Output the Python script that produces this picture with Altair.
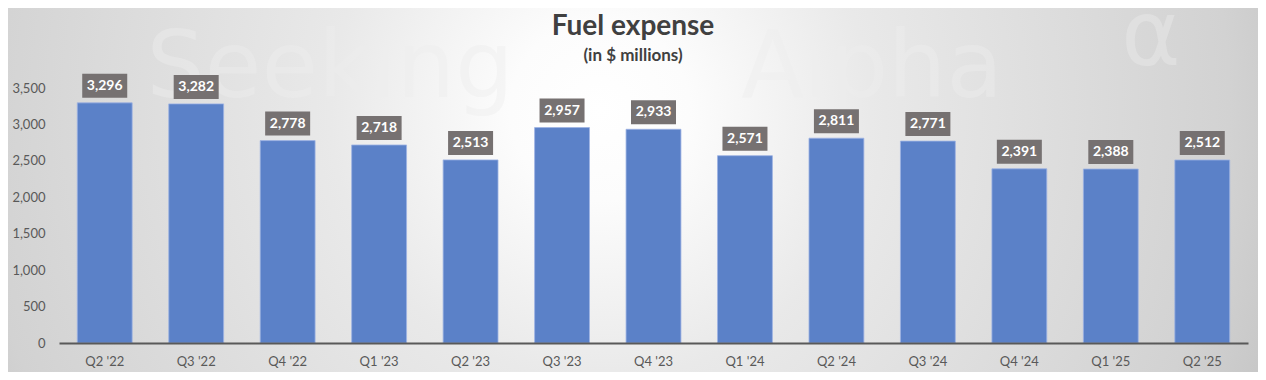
import altair as alt
import pandas as pd

quarters = ["Q2 '22", "Q3 '22", "Q4 '22", "Q1 '23", "Q2 '23", "Q3 '23", "Q4 '23",
            "Q1 '24", "Q2 '24", "Q3 '24", "Q4 '24", "Q1 '25", "Q2 '25"]
fuel = [3296, 3282, 2778, 2718, 2513, 2957, 2933, 2571, 2811, 2771, 2391, 2388, 2512]
labels = [f"{v:,}" for v in fuel]
y_ticks = [0, 500, 1000, 1500, 2000, 2500, 3000, 3500]

title_text = ["Fuel expense"]
subtitle_text = ["(in $ millions)"]

df = pd.DataFrame({"quarter": quarters, "fuel": fuel, "label": labels})

W, H = 1189, 255
FONT = "Lato"

x_enc = alt.X(
    "quarter:N", sort=quarters, title=None,
    scale=alt.Scale(paddingInner=0.4, paddingOuter=0.2),
    axis=alt.Axis(labelAngle=0, ticks=False, domain=True, domainColor="#595959",
                  domainWidth=2, labelPadding=12, labelColor="#595959",
                  labelFontSize=13, labelFont=FONT, grid=False, zindex=2),
)
y_enc = alt.Y(
    "fuel:Q", title=None,
    scale=alt.Scale(domain=[0, 3500], nice=False),
    axis=alt.Axis(values=y_ticks, format=",.0f", ticks=False, domain=False, grid=False,
                  labelPadding=14, labelColor="#595959", labelFontSize=13,
                  labelFont=FONT, zindex=2),
)

one = pd.DataFrame({"a": [0]})

bg = alt.Chart(one).mark_rect(
    fill={
        "gradient": "radial",
        "x1": 0.5, "y1": 0.5, "r1": 0,
        "x2": 0.5, "y2": 0.5, "r2": 0.5,
        "stops": [
            {"offset": 0.0, "color": "#ffffff"},
            {"offset": 0.12, "color": "#fcfcfc"},
            {"offset": 0.36, "color": "#e9e9e9"},
            {"offset": 0.84, "color": "#d2d2d2"},
            {"offset": 1.0, "color": "#c2c2c2"},
        ],
    }
).encode(x=alt.value(-209), x2=alt.value(1291), y=alt.value(-728), y2=alt.value(772))

wm1 = alt.Chart(one).mark_text(
    text="Seeking", font="DejaVu Sans", fontSize=92, align="center", baseline="alphabetic",
    fill="#eeeeee", opacity=0.45,
).encode(x=alt.value(271), y=alt.value(9))
wm2 = alt.Chart(one).mark_text(
    text="Alpha", font="DejaVu Sans", fontSize=92, align="center", baseline="alphabetic",
    fill="#eeeeee", opacity=0.45,
).encode(x=alt.value(813), y=alt.value(9))
wm3 = alt.Chart(one).mark_text(
    text="α", font="DejaVu Sans", fontSize=90, align="center",
    baseline="middle", fill="#eeeeee", opacity=0.4,
).encode(x=alt.value(1092), y=alt.value(-50))

bars = alt.Chart(df).mark_bar(color="#5b81c8", stroke="#9db3e3", strokeWidth=0.8).encode(
    x=x_enc, y=y_enc
)

boxes = alt.Chart(df).mark_point(
    shape="M-1,-0.533L1,-0.533L1,0.533L-1,0.533Z", size=2025, filled=True,
    fill="#767171", opacity=1, strokeWidth=0, yOffset=-17,
).encode(x=x_enc, y=y_enc)

texts = alt.Chart(df).mark_text(
    font=FONT, fontSize=14, fontWeight="bold", color="#ffffff", baseline="middle",
    yOffset=-17,
).encode(x=x_enc, y=y_enc, text="label:N")

title = alt.Chart(pd.DataFrame({"t": title_text})).mark_text(
    font=FONT, fontSize=28, fontWeight="bold", color="#404040", baseline="alphabetic",
    align="center",
).encode(x=alt.value(574), y=alt.value(-53), text="t:N")

subtitle = alt.Chart(pd.DataFrame({"t": subtitle_text})).mark_text(
    font=FONT, fontSize=17, fontWeight="bold", color="#404040", baseline="alphabetic",
    align="center",
).encode(x=alt.value(574), y=alt.value(-27), text="t:N")

chart = alt.layer(bg, wm1, wm2, wm3, bars, boxes, texts, title, subtitle).properties(
    width=W, height=H,
    autosize=alt.AutoSizeParams(type="none"),
    padding={"left": 51, "top": 80, "right": 10, "bottom": 29},
).configure_view(stroke=None)

chart.save("out.html", embed_options={"renderer": "svg", "actions": False})
